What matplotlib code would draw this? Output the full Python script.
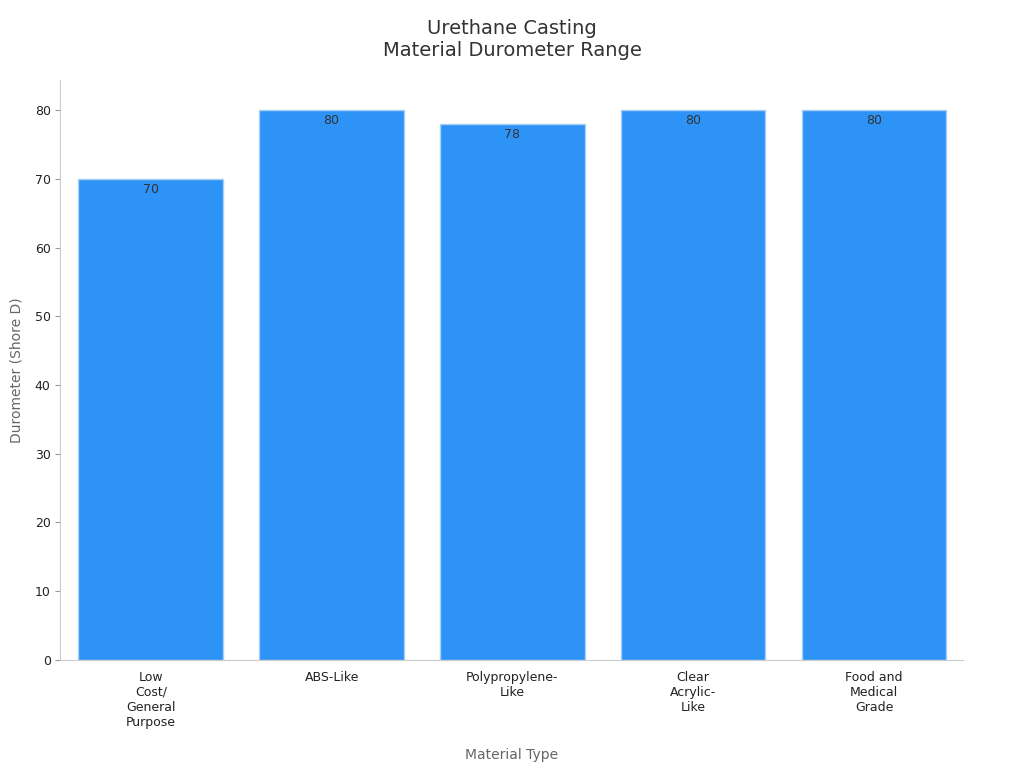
import matplotlib.pyplot as plt

materials = ['Low\nCost/\nGeneral\nPurpose', 'ABS-Like', 'Polypropylene-\nLike',
             'Clear\nAcrylic-\nLike', 'Food and\nMedical\nGrade']
durometer = [70, 80, 78, 80, 80]

fig = plt.figure(figsize=(10.24, 7.68), dpi=100)
ax = fig.add_axes([0.059, 0.141, 0.881, 0.755])
bars = ax.bar(range(len(materials)), durometer, width=0.8, color='#2e93f7',
              edgecolor='#a8d0f5', linewidth=1)
for b, v in zip(bars, durometer):
    ax.text(b.get_x() + b.get_width() / 2, v - 0.6, str(v), ha='center', va='top',
            fontsize=9, color='#333333')

ax.set_xlim(-0.5, 4.49)
ax.set_ylim(0, 84.4)
ax.set_xticks(range(len(materials)))
ax.set_xticklabels(materials, fontsize=9, color='#222222')
ax.set_yticks(range(0, 81, 10))
ax.tick_params(axis='y', labelsize=9, colors='#222222', color='#999999')
ax.tick_params(axis='x', length=0, pad=8)
for s in ['top', 'right']:
    ax.spines[s].set_visible(False)
for s in ['left', 'bottom']:
    ax.spines[s].set_color('#cccccc')
ax.set_xlabel('Material Type', fontsize=10, color='#666666', labelpad=14)
ax.set_ylabel('Durometer (Shore D)', fontsize=10, color='#666666', labelpad=8)
fig.suptitle('Urethane Casting\nMaterial Durometer Range', fontsize=14, color='#333333',
             y=0.975)
fig.savefig('out.png')
